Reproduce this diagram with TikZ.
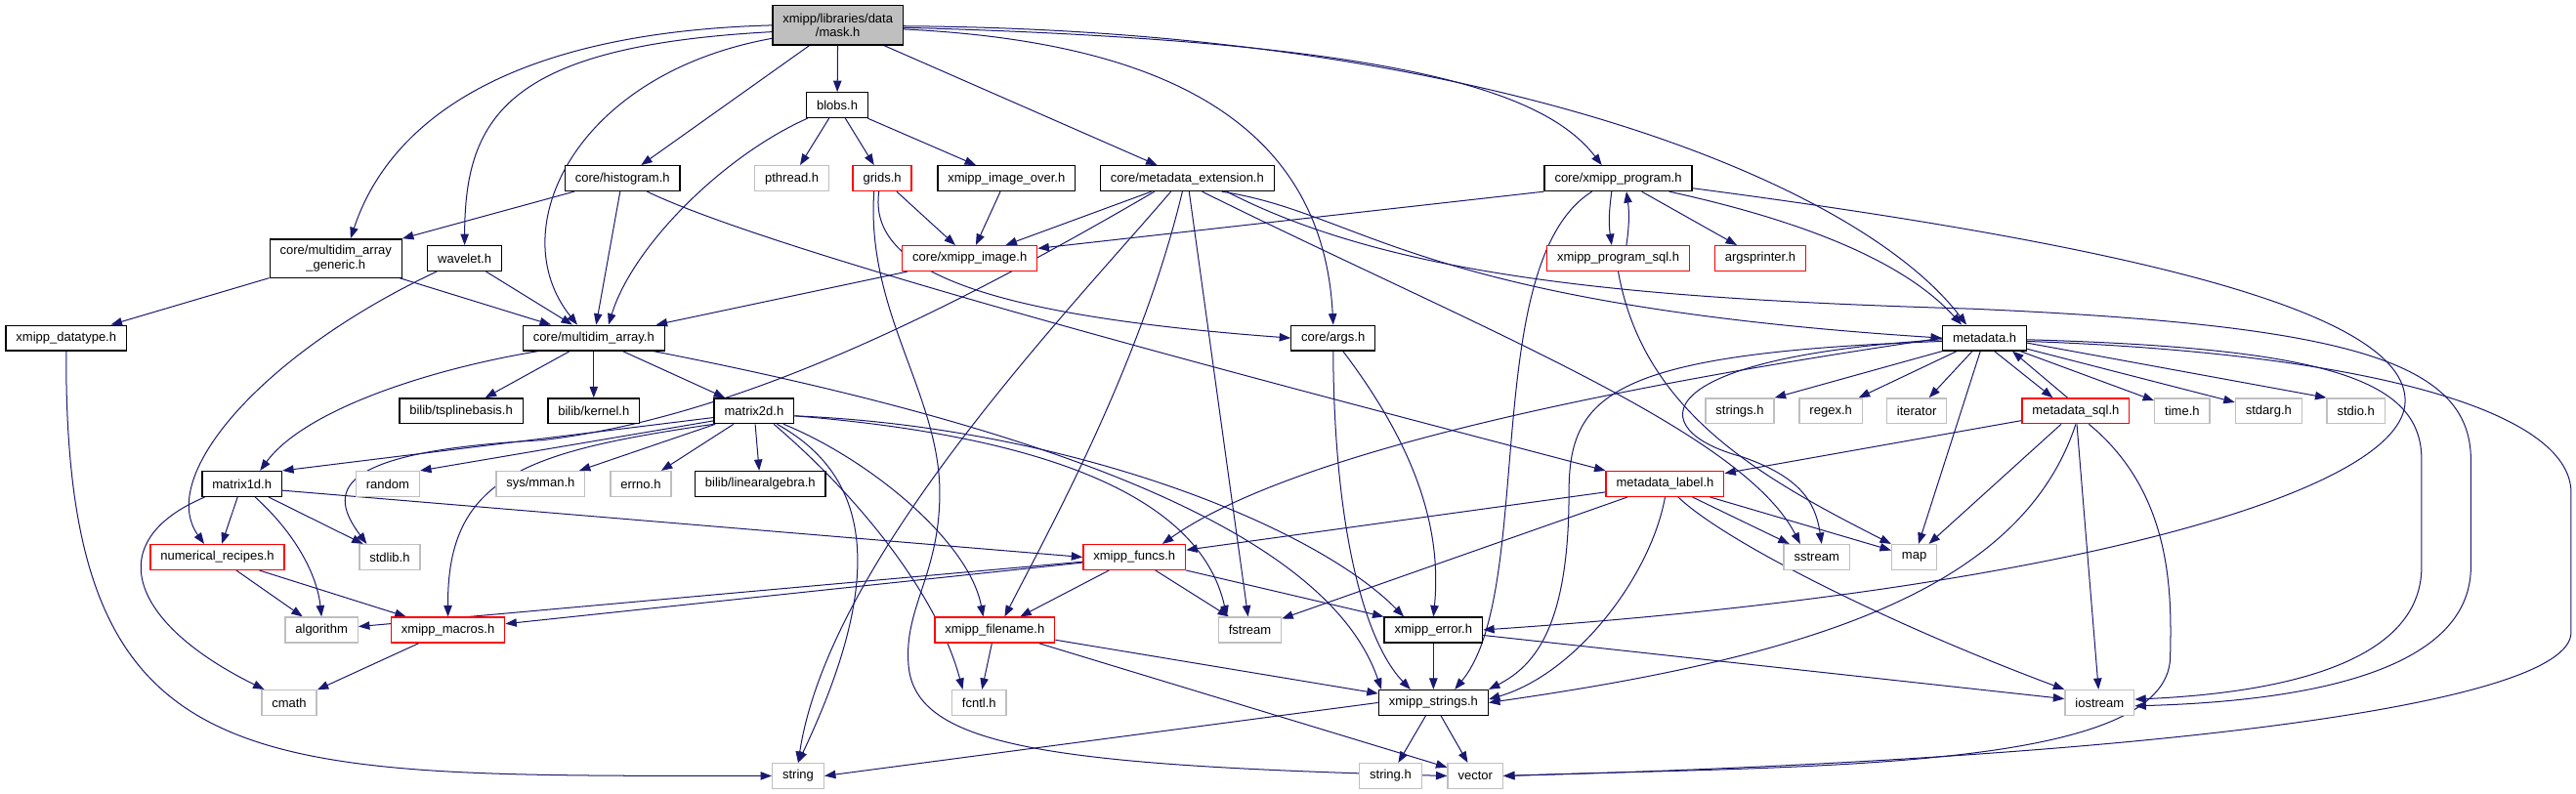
\documentclass[tikz,border=0pt]{standalone}
\usepackage{fontspec}
\setmainfont{Liberation Sans}
\usepackage{xcolor}
\definecolor{cEdge}{HTML}{191970}
\definecolor{cTrunc}{HTML}{FF0000}
\definecolor{cSys}{HTML}{BFBFBF}
\definecolor{cRoot}{HTML}{BFBFBF}
\usepackage{tikz}
\usetikzlibrary{arrows.meta,calc,backgrounds}
\tikzset{
  node-box/.style={draw=black,line width=1.15pt,fill=white,minimum height=7.65mm,
    inner xsep=3.1mm,inner ysep=0pt,align=center,
    font=\fontsize{11}{12.6}\selectfont},
  node-root/.style={node-box,fill=cRoot,minimum height=12mm},
  node-trunc/.style={node-box,draw=cTrunc},
  node-sys/.style={node-box,draw=cSys},
  arrow/.style={-{Triangle[length=3.4mm,width=2.5mm]},line width=0.85pt,draw=cEdge},
}
\begin{document}
\begin{tikzpicture}[x=0.5mm,y=-0.5mm]
  \useasboundingbox (0,0) rectangle (1568,483);
  % rows from top to bottom
  \node[node-root] (mask) at (510,15.4) {xmipp/libraries/data\\/mask.h};
  \node[node-box] (blobs) at (509.6,64) {blobs.h};

  \node[node-box] (histogram) at (378.9,108.6) {core/histogram.h};
  \node[node-sys] (pthread) at (482,108.6) {pthread.h};
  \node[node-trunc] (grids) at (537,108.6) {grids.h};
  \node[node-box] (imgover) at (612.6,108.6) {xmipp\_image\_over.h};
  \node[node-box] (mdext) at (722.7,108.6) {core/metadata\_extension.h};
  \node[node-box] (xprog) at (985,108.6) {core/xmipp\_program.h};

  \node[node-box,minimum height=11.7mm] (generic) at (204.4,157.3) {core/multidim\_array\\\_generic.h};
  \node[node-box] (wavelet) at (282.8,157.3) {wavelet.h};
  \node[node-trunc] (ximage) at (590.3,157.3) {core/xmipp\_image.h};
  \node[node-trunc] (progsql) at (985,157.3) {xmipp\_program\_sql.h};
  \node[node-trunc] (argsp) at (1071.5,157.3) {argsprinter.h};

  \node[node-box] (datatype) at (40.3,205.8) {xmipp\_datatype.h};
  \node[node-box] (mdarray) at (361.4,205.8) {core/multidim\_array.h};
  \node[node-box] (args) at (811.5,205.8) {core/args.h};
  \node[node-box] (metadata) at (1208,205.8) {metadata.h};

  \node[node-box] (tspline) at (280.7,250.2) {bilib/tsplinebasis.h};
  \node[node-box] (kernel) at (361.4,250.2) {bilib/kernel.h};
  \node[node-box] (matrix2d) at (459,250.2) {matrix2d.h};
  \node[node-sys] (stringsh) at (1059,250.2) {strings.h};
  \node[node-sys] (regex) at (1114.4,250.2) {regex.h};
  \node[node-sys] (iterator) at (1166.7,250.2) {iterator};
  \node[node-trunc] (mdsql) at (1263.5,250.2) {metadata\_sql.h};
  \node[node-sys] (timeh) at (1328.3,250.2) {time.h};
  \node[node-sys] (stdarg) at (1380.9,250.2) {stdarg.h};
  \node[node-sys] (stdio) at (1434,250.2) {stdio.h};

  \node[node-box] (matrix1d) at (147.3,294.6) {matrix1d.h};
  \node[node-sys] (random) at (236,294.6) {random};
  \node[node-sys] (mman) at (329,294.6) {sys/mman.h};
  \node[node-sys] (errno) at (390,294.6) {errno.h};
  \node[node-box] (linalg) at (462.8,294.6) {bilib/linearalgebra.h};
  \node[node-trunc] (mdlabel) at (1013.5,294.6) {metadata\_label.h};

  \node[node-trunc] (numrec) at (132.3,339.2) {numerical\_recipes.h};
  \node[node-sys] (stdlib) at (237.2,339.2) {stdlib.h};
  \node[node-trunc] (funcs) at (690.5,339.2) {xmipp\_funcs.h};
  \node[node-sys] (sstream) at (1105.8,339.2) {sstream};
  \node[node-sys] (map) at (1165.2,339.2) {map};

  \node[node-sys] (algorithm) at (195.7,383.5) {algorithm};
  \node[node-trunc] (macros) at (272.7,383.5) {xmipp\_macros.h};
  \node[node-trunc] (filename) at (605.5,383.5) {xmipp\_filename.h};
  \node[node-sys] (fstream) at (760.8,383.5) {fstream};
  \node[node-box] (error) at (872.5,383.5) {xmipp\_error.h};

  \node[node-sys] (cmath) at (176,427.8) {cmath};
  \node[node-sys] (fcntl) at (596,427.8) {fcntl.h};
  \node[node-box] (xstrings) at (872.5,427.8) {xmipp\_strings.h};
  \node[node-sys] (iostream) at (1278,427.8) {iostream};

  \node[node-sys] (string) at (485.8,472.4) {string};
  \node[node-sys] (stringh) at (846.4,472.4) {string.h};
  \node[node-sys] (vector) at (898,472.4) {vector};

  \begin{scope}[on background layer]
  \fill[white] (0,0) rectangle (1568,483);
  % mask.h
  \draw[arrow] (mask.west) .. controls (300,20) and (235,80) .. ($(generic.north)+(9,0)$);
  \draw[arrow] ($(mask.west)+(0,4)$) .. controls (310,28) and (283,70) .. (wavelet.north);
  \draw[arrow] ($(mask.west)+(0,8)$) .. controls (350,45) and (305,140) .. ($(mdarray.north)+(-10,0)$);
  \draw[arrow] (mask) -- (histogram);
  \draw[arrow] (mask) -- (blobs);
  \draw[arrow] (mask) -- (mdext);
  \draw[arrow] ($(mask.east)+(0,2.4)$) .. controls (700,25) and (805,70) .. (args.north);
  \draw[arrow] ($(mask.east)+(0,1.4)$) .. controls (850,25) and (940,55) .. ($(xprog.north)+(-10,0)$);
  \draw[arrow] ($(mask.east)+(0,0.5)$) .. controls (900,18) and (1130,110) .. ($(metadata.north)+(-11,0)$);
  % blobs.h
  \draw[arrow] (blobs) .. controls (440,95) and (385,150) .. ($(mdarray.north)+(9,0)$);
  \draw[arrow] (blobs) -- (pthread);
  \draw[arrow] (blobs) -- (grids);
  \draw[arrow] (blobs) -- (imgover);
  % histogram, generic, wavelet, datatype
  \draw[arrow] (histogram) -- (generic.north east);
  \draw[arrow] (histogram) -- (mdarray);
  \draw[arrow] ($(histogram.south)+(15,0)$) .. controls (480,158) and (820,245) .. (mdlabel.north west);
  \draw[arrow] (generic) -- (datatype);
  \draw[arrow] (generic) -- (mdarray);
  \draw[arrow] (wavelet) -- (mdarray);
  \draw[arrow] ($(wavelet.south)+(-17,0)$) .. controls (160,215) and (95,290) .. ($(numrec.north)+(-8,0)$);
  \draw[arrow] (datatype.south) .. controls (39,480) and (150,472) .. (string.west);
  % grids, image
  \draw[arrow] (grids) -- (ximage);
  \draw[arrow] (imgover) -- (ximage);
  \draw[arrow] (ximage) -- (mdarray);
  \draw[arrow] ($(grids.south)+(-2,0)$) .. controls (528,165) and (600,192) .. (args.west);
  \draw[arrow] ($(grids.south)+(-5,0)$) .. controls (527,190) and (572,240) .. (572,300)
    .. controls (572,350) and (550,370) .. (553,405) .. controls (557,455) and (640,466) .. (vector.west);
  % metadata_extension
  \draw[arrow] (mdext) -- (ximage);
  \draw[arrow] ($(mdext.south)+(-20,0)$) .. controls (560,200) and (440,255) .. (330,268)
    .. controls (200,275) and (200,300) .. ($(stdlib.north)+(-14,0)$);
  \draw[arrow] ($(mdext.south)+(-10,0)$) .. controls (650,190) and (505,340) .. (string.north);
  \draw[arrow] ($(mdext.south)+(-3,0)$) .. controls (695,220) and (640,320) .. ($(filename.north)+(6,0)$);
  \draw[arrow] (mdext) -- (fstream);
  \draw[arrow] ($(mdext.south)+(9,0)$) .. controls (900,200) and (1060,262) .. ($(sstream.north)+(-10,0)$);
  \draw[arrow] ($(mdext.south)+(21,0)$) .. controls (830,130) and (860,185) .. (metadata.west);
  \draw[arrow] ($(mdext.south)+(24,0)$) .. controls (850,170) and (1000,182) .. (1200,188)
    .. controls (1430,198) and (1504,220) .. (1504,280) -- (1504,345)
    .. controls (1504,410) and (1400,427) .. ($(iostream.east)+(0,2)$);
  % xmipp_program
  \draw[arrow] (xprog.south west) -- ($(ximage.north east)+(0,2)$);
  \draw[arrow] ($(xprog.south)+(-4,0)$) to[bend right=8] ($(progsql.north)+(-4,0)$);
  \draw[arrow] ($(progsql.north)+(5,0)$) to[bend right=8] ($(xprog.south)+(5,0)$);
  \draw[arrow] (xprog) -- (argsp);
  \draw[arrow] ($(xprog.south)+(31,0)$) .. controls (1100,135) and (1160,160) .. ($(metadata.north)+(-14,0)$);
  \draw[arrow] ($(xprog.east)+(0,6)$) .. controls (1300,150) and (1464,190) .. (1464,244)
    .. controls (1464,300) and (1250,360) .. (error.east);
  \draw[arrow] ($(xprog.south)+(-16,0)$) .. controls (900,160) and (935,360) .. ($(xstrings.north)+(13,0)$);
  \draw[arrow] (progsql.south) .. controls (1000,250) and (1070,290) .. (map.north west);
  % args
  \draw[arrow] (args.south) .. controls (812,320) and (830,390) .. ($(xstrings.north)+(-14,0)$);
  \draw[arrow] ($(args.south)+(6,0)$) .. controls (860,270) and (878,320) .. (error.north);
  % metadata
  \draw[arrow] (metadata.south west) -- (stringsh.north east);
  \draw[arrow] (metadata) -- (regex);
  \draw[arrow] (metadata) -- (iterator);
  \draw[arrow] (metadata) -- (map);
  \draw[arrow] ($(metadata.south)+(6,0)$) -- ($(mdsql.north)+(-14,0)$);
  \draw[arrow] ($(mdsql.north)+(-5,0)$) -- ($(metadata.south east)+(-9,0)$);
  \draw[arrow] (metadata) -- (timeh);
  \draw[arrow] (metadata) -- (stdarg);
  \draw[arrow] ($(metadata.east)+(0,3)$) -- (stdio.north west);
  \draw[arrow] (metadata.west) .. controls (950,240) and (780,280) .. ($(funcs.north)+(17,0)$);
  \draw[arrow] ($(metadata.west)+(0,2)$) .. controls (980,215) and (955,240) .. (955,300)
    .. controls (955,380) and (935,405) .. (xstrings.north east);
  \draw[arrow] ($(metadata.west)+(0,1)$) .. controls (1000,218) and (1000,262) .. (1060,278)
    .. controls (1095,290) and (1105,305) .. ($(sstream.north)+(3,0)$);
  \draw[arrow] ($(metadata.east)+(0,1)$) .. controls (1420,212) and (1474,232) .. (1474,280) -- (1474,345)
    .. controls (1474,405) and (1385,422) .. ($(iostream.east)+(0,-2)$);
  \draw[arrow] ($(metadata.east)+(0,2)$) .. controls (1440,215) and (1565,250) .. (1565,300) -- (1565,385)
    .. controls (1565,430) and (1300,462) .. (vector.east);
  % metadata_sql
  \draw[arrow] (mdsql) -- (mdlabel);
  \draw[arrow] (mdsql) -- (map);
  \draw[arrow] (mdsql) -- (iostream);
  \draw[arrow] (mdsql.south) .. controls (1230,360) and (1100,400) .. (xstrings.east);
  \draw[arrow] ($(mdsql.south)+(8,0)$) .. controls (1322,300) and (1322,360) .. (1321,400)
    .. controls (1320,470) and (1100,466) .. (vector.east);
  % metadata_label
  \draw[arrow] (mdlabel) -- (funcs);
  \draw[arrow] (mdlabel) -- (fstream);
  \draw[arrow] (mdlabel) -- (sstream);
  \draw[arrow] (mdlabel) -- (map);
  \draw[arrow] ($(mdlabel.south)+(8,0)$) .. controls (1050,330) and (1150,380) .. (iostream.north west);
  \draw[arrow] (mdlabel.south) .. controls (1005,350) and (960,410) .. ($(xstrings.east)+(0,-2)$);
  % multidim_array
  \draw[arrow] (mdarray) -- (tspline);
  \draw[arrow] (mdarray) -- (kernel);
  \draw[arrow] (mdarray) -- (matrix2d);
  \draw[arrow] ($(mdarray.south)+(-34,0)$) .. controls (260,225) and (185,250) .. ($(matrix1d.north)+(11,0)$);
  \draw[arrow] ($(mdarray.south east)+(-7,0)$) .. controls (660,265) and (810,330) .. ($(xstrings.north west)+(2,0)$);
  % matrix2d
  \draw[arrow] ($(matrix2d.west)+(0,4)$) -- (matrix1d.north east);
  \draw[arrow] ($(matrix2d.west)+(0,6)$) -- (random.north east);
  \draw[arrow] (matrix2d) -- (mman);
  \draw[arrow] (matrix2d) -- (errno);
  \draw[arrow] (matrix2d) -- (linalg);
  \draw[arrow] (matrix2d.south west) .. controls (320,275) and (272,290) .. (macros.north);
  \draw[arrow] ($(matrix2d.south)+(14,0)$) .. controls (530,290) and (540,350) .. (string.north);
  \draw[arrow] ($(matrix2d.south)+(12,0)$) .. controls (520,300) and (570,360) .. ($(fcntl.north)+(-10,0)$);
  \draw[arrow] ($(matrix2d.south)+(18,0)$) .. controls (530,280) and (590,330) .. ($(filename.north)+(-7,0)$);
  \draw[arrow] ($(matrix2d.east)+(0,3)$) .. controls (630,265) and (730,300) .. ($(fstream.north)+(-14,0)$);
  \draw[arrow] ($(matrix2d.east)+(0,3)$) .. controls (650,260) and (800,320) .. ($(error.north)+(-18,0)$);
  % matrix1d, recipes, macros
  \draw[arrow] (matrix1d) -- (numrec);
  \draw[arrow] ($(matrix1d.south)+(8,0)$) .. controls (180,325) and (193,350) .. (algorithm.north);
  \draw[arrow] (matrix1d) -- (stdlib);
  \draw[arrow] ($(matrix1d.south west)+(2,0)$) .. controls (60,330) and (80,380) .. ($(cmath.north west)+(2,0)$);
  \draw[arrow] ($(matrix1d.east)+(0,4)$) -- (funcs.west);
  \draw[arrow] (numrec) -- (algorithm);
  \draw[arrow] (numrec) -- (macros);
  \draw[arrow] (macros) -- (cmath);
  % funcs, filename, error, strings
  \draw[arrow] (funcs) -- (filename);
  \draw[arrow] (funcs) -- (fstream);
  \draw[arrow] (funcs.south east) -- (error.north west);
  \draw[arrow] (funcs) -- (algorithm);
  \draw[arrow] (funcs) -- (macros);
  \draw[arrow] (filename) -- (fcntl);
  \draw[arrow] (filename) -- (xstrings);
  \draw[arrow] (filename) -- (vector);
  \draw[arrow] (error) -- (xstrings);
  \draw[arrow] (error) -- (iostream);
  \draw[arrow] (xstrings.west) -- (string.east);
  \draw[arrow] (xstrings) -- (stringh);
  \draw[arrow] (xstrings) -- (vector);
  \end{scope}
\end{tikzpicture}
\end{document}
